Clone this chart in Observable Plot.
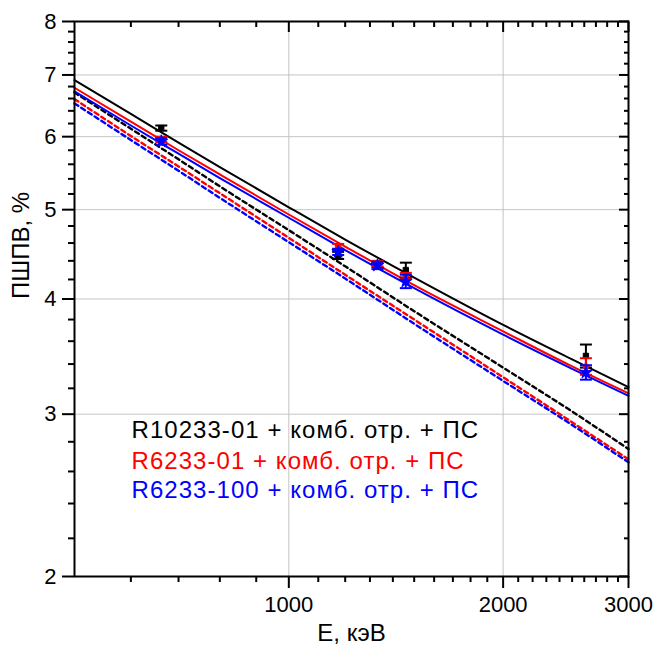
<!DOCTYPE html>
<html>
<head>
<meta charset="utf-8">
<script src="https://cdn.jsdelivr.net/npm/d3@7"></script>
<script src="https://cdn.jsdelivr.net/npm/@observablehq/plot@0.6"></script>
<style>
  html, body { margin: 0; padding: 0; background: white; }
</style>
</head>
<body>
<div id="chart"></div>
<script>
// ---- data ----
const fitEnergy = [500, 600, 700, 800, 1000, 1200, 1500, 2000, 2500, 3000];
const fitR10233Solid = [6.91, 6.35, 5.91, 5.56, 5.03, 4.64, 4.22, 3.75, 3.44, 3.21];
const fitR623301Solid = [6.78, 6.23, 5.80, 5.46, 4.94, 4.56, 4.14, 3.69, 3.38, 3.16];
const fitR6233100Solid = [6.72, 6.17, 5.75, 5.41, 4.90, 4.52, 4.11, 3.66, 3.36, 3.14];
const fitR10233Dash = [6.70, 6.12, 5.67, 5.30, 4.75, 4.34, 3.88, 3.37, 3.02, 2.75];
const fitR623301Dash = [6.59, 6.01, 5.57, 5.21, 4.66, 4.25, 3.80, 3.29, 2.94, 2.68];
const fitR6233100Dash = [6.52, 5.95, 5.51, 5.15, 4.61, 4.21, 3.76, 3.26, 2.92, 2.66];

const peakEnergy = [662, 1173, 1332, 1460, 2614];
const ptR10233 = [6.13, 4.46, 4.36, 4.30, 3.47];
const errR10233 = [0.04, 0.04, 0.03, 0.08, 0.10];
const ptR623301 = [5.96, 4.56, 4.37, 4.24, 3.38];
const errR623301 = [0.04, 0.03, 0.03, 0.03, 0.07];
const ptR6233100 = [5.93, 4.50, 4.35, 4.18, 3.33];
const errR6233100 = [0.05, 0.035, 0.04, 0.07, 0.06];

const legendLabels = ["R10233-01 + комб. отр. + ПС", "R6233-01 + комб. отр. + ПС", "R6233-100 + комб. отр. + ПС"];
const seriesColors = ["#000000", "#ff0000", "#0000ff"];

const yMajor = [2, 3, 4, 5, 6, 7, 8];
const yMinor = [2.2, 2.4, 2.6, 2.8, 3.2, 3.4, 3.6, 3.8, 4.2, 4.4, 4.6, 4.8, 5.2, 5.4, 5.6, 5.8, 6.2, 6.4, 6.6, 6.8, 7.2, 7.4, 7.6, 7.8];
const yGrid = [3, 4, 5, 6, 7];
const xMajor = [1000, 2000, 3000];
const xMinor = [600, 700, 800, 900, 1100, 1200, 1300, 1400, 1500, 1600, 1700, 1800, 1900, 2100, 2200, 2300, 2400, 2500, 2600, 2700, 2800, 2900];
const xGrid = [1000, 2000];

// ---- tables ----
const fitSets = [
  {vals: fitR10233Solid, color: seriesColors[0], dash: null},
  {vals: fitR623301Solid, color: seriesColors[1], dash: null},
  {vals: fitR6233100Solid, color: seriesColors[2], dash: null},
  {vals: fitR10233Dash, color: seriesColors[0], dash: "4.5,3.5"},
  {vals: fitR623301Dash, color: seriesColors[1], dash: "4.5,3.5"},
  {vals: fitR6233100Dash, color: seriesColors[2], dash: "4.5,3.5"}
];
const pointSets = [
  {vals: ptR10233, err: errR10233, color: seriesColors[0], symbol: "square", r: 3},
  {vals: ptR623301, err: errR623301, color: seriesColors[1], symbol: "circle", r: 2.8},
  {vals: ptR6233100, err: errR6233100, color: seriesColors[2], symbol: "star", r: 4}
];
const capSymbol = {draw(ctx) { ctx.moveTo(-6, 0); ctx.lineTo(6, 0); }};

const marks = [];
marks.push(Plot.ruleY(yGrid, {stroke: "#c4c4c4", strokeWidth: 1}));
marks.push(Plot.ruleX(xGrid, {stroke: "#c4c4c4", strokeWidth: 1}));

// dashed first, then solid
for (const s of fitSets.slice(3).concat(fitSets.slice(0, 3))) {
  const rows = fitEnergy.map((e, i) => ({e, v: s.vals[i]}));
  marks.push(Plot.line(rows, {x: "e", y: "v", stroke: s.color, strokeWidth: s.dash ? 2.4 : 2, strokeDasharray: s.dash, curve: "monotone-x"}));
}

for (const p of pointSets) {
  const rows = peakEnergy.map((e, i) => ({e, v: p.vals[i], lo: p.vals[i] - p.err[i], hi: p.vals[i] + p.err[i]}));
  marks.push(Plot.ruleX(rows, {x: "e", y1: "lo", y2: "hi", stroke: p.color, strokeWidth: 2}));
  marks.push(Plot.dot(rows, {x: "e", y: "lo", symbol: capSymbol, stroke: p.color, strokeWidth: 2, r: 3}));
  marks.push(Plot.dot(rows, {x: "e", y: "hi", symbol: capSymbol, stroke: p.color, strokeWidth: 2, r: 3}));
  marks.push(Plot.dot(rows, {x: "e", y: "v", symbol: p.symbol, fill: p.color, stroke: p.color, strokeWidth: 1, r: p.r}));
}

// axes
const axisFont = 22;
marks.push(Plot.axisY({ticks: yMajor, tickSize: 12, tickPadding: 6, tickFormat: d => String(d), fontSize: axisFont, strokeWidth: 2, label: null}));
marks.push(Plot.axisY({ticks: yMinor, tickSize: 6, tickFormat: () => "", strokeWidth: 2, label: null}));
marks.push(Plot.axisY({anchor: "right", ticks: yMajor, tickSize: 10, dx: -10, tickFormat: () => "", strokeWidth: 2, label: null}));
marks.push(Plot.axisY({anchor: "right", ticks: yMinor, tickSize: 5, dx: -5, tickFormat: () => "", strokeWidth: 2, label: null}));
marks.push(Plot.axisX({ticks: xMajor, tickSize: 12, tickPadding: 8, tickFormat: d => String(d), fontSize: axisFont, strokeWidth: 2, label: null}));
marks.push(Plot.axisX({ticks: xMinor, tickSize: 6, tickFormat: () => "", strokeWidth: 2, label: null}));
marks.push(Plot.axisX({anchor: "top", ticks: xMajor, tickSize: 10, dy: 10, tickFormat: () => "", strokeWidth: 2, label: null}));
marks.push(Plot.axisX({anchor: "top", ticks: xMinor, tickSize: 5, dy: 5, tickFormat: () => "", strokeWidth: 2, label: null}));
marks.push(Plot.frame({stroke: "black", strokeWidth: 2}));

// axis titles
marks.push(Plot.text(["E, кэВ"], {text: d => d, frameAnchor: "bottom", dy: 57, lineAnchor: "middle", fontSize: 24, fill: "black"}));
marks.push(Plot.text(["ПШПВ, %"], {text: d => d, frameAnchor: "left", dx: -53, rotate: -90, lineAnchor: "middle", fontSize: 24, fill: "black"}));

// legend
const legendDy = [409, 440, 469];
legendLabels.forEach((lab, i) => {
  marks.push(Plot.text([lab], {text: d => d, frameAnchor: "top-left", dx: 57, dy: legendDy[i], textAnchor: "start", lineAnchor: "middle", fontSize: 24, fill: seriesColors[i]}));
});

const chart = Plot.plot({
  width: 654,
  height: 650,
  marginLeft: 74,
  marginRight: 26,
  marginTop: 21,
  marginBottom: 74,
  style: {fontFamily: "'Liberation Sans', Arial, sans-serif", background: "white", color: "black"},
  x: {type: "log", domain: [500, 3000]},
  y: {type: "log", domain: [2, 8]},
  marks
});
d3.select(chart).selectAll("text")
  .filter(function () { return legendLabels.includes(this.textContent); })
  .style("letter-spacing", "1.05px");
document.getElementById("chart").appendChild(chart);
</script>
</body>
</html>
